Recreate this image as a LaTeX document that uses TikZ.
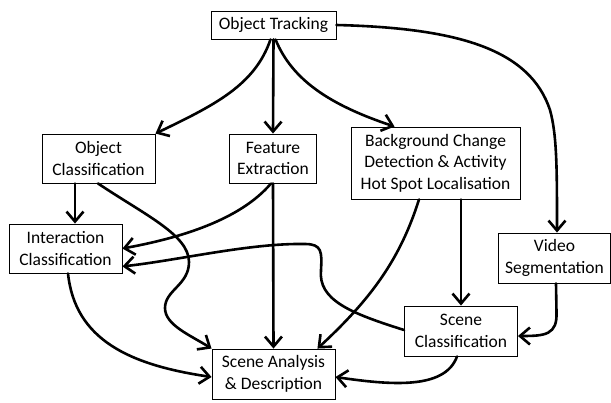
\documentclass[tikz,border=0pt]{standalone}
\usepackage{fontspec}
\setmainfont{Carlito}
\usetikzlibrary{arrows.meta,calc}

\tikzset{
  stage/.style={draw=black, line width=0.9pt, fill=white, inner sep=0pt,
    align=center, font=\fontsize{17.5}{21.5}\selectfont},
  link/.style={line width=2.6pt, line cap=round, line join=round,
    -{Straight Barb[length=10pt,width=17pt,line width=2.6pt]}},
}

\begin{document}
\begin{tikzpicture}[x=1pt,y=-1pt]
\useasboundingbox (0,0) rectangle (611,402);

% processing stages
\node[stage, minimum width=125pt, minimum height=28pt] (ot) at (273.5,25) {Object Tracking};
\node[stage, minimum width=113pt, minimum height=49pt] (oc) at (98.5,158.5) {Object\\Classification};
\node[stage, minimum width=87pt,  minimum height=49pt] (fe) at (273,158.5) {Feature\\Extraction};
\node[stage, minimum width=169pt, minimum height=72pt] (bg) at (435.5,163) {Background Change\\Detection \& Activity\\Hot Spot Localisation};
\node[stage, minimum width=113pt, minimum height=49pt] (ic) at (65.5,248.5) {Interaction\\Classification};
\node[stage, minimum width=112pt, minimum height=50pt] (vs) at (554.5,258) {Video\\Segmentation};
\node[stage, minimum width=113pt, minimum height=50pt] (sc) at (461,331) {Scene\\Classification};
\node[stage, minimum width=123pt, minimum height=50pt] (sa) at (273.5,374) {Scene Analysis\\\& Description};

% from object tracking
\draw[link] ([xshift=-3pt]ot.south) .. controls (255,85) and (215,105) .. (oc.north east);
\draw[link] (ot.south) -- (fe.north);
\draw[link] ([xshift=2pt]ot.south) .. controls (292,80) and (330,105) .. ([xshift=-41pt]bg.north);
\draw[link] (ot.east) .. controls (460,28) and (530,50) .. (550,110)
  .. controls (557,135) and (557,170) .. ([xshift=2.5pt]vs.north);

% from object classification
\draw[link] ([xshift=9.5pt]ic.north |- oc.south) -- ([xshift=9.5pt]ic.north);
\draw[link] ([xshift=-0.5pt]oc.south) .. controls (145,215) and (189,235) .. (189,262)
  .. controls (189,285) and (165,290) .. (165,308)
  .. controls (165,325) and (190,335) .. (sa.north west);

% from feature extraction
\draw[link] ([xshift=-2pt]fe.south) .. controls (240,220) and (180,238) .. (ic.east);
\draw[link] (fe.south) -- (sa.north);

% from background change detection
\draw[link] ([xshift=-16.5pt]bg.south) .. controls (400,260) and (370,300) .. ([xshift=-18pt]sa.north east);
\draw[link] (bg.south -| sc.north) -- (sc.north);

% from video segmentation
\draw[link] ([xshift=1.5pt]vs.south) -- (556.5,312) .. controls (557.5,335) and (545,336) .. ([yshift=-5pt]sc.east);

% from scene classification
\draw[link] ([yshift=1pt]sc.west) .. controls (350,313) and (318,300) .. (321,270)
  .. controls (322,252) and (322,244) .. (305,244)
  .. controls (250,243) and (180,260) .. ([yshift=7pt]ic.south east);
\draw[link] ([xshift=-4pt]sc.south) .. controls (445,390) and (390,385) .. ([yshift=-3pt]sa.east);

% from interaction classification
\draw[link] ([xshift=2.5pt]ic.south) .. controls (75,340) and (130,365) .. ([yshift=-3pt]sa.west);
\end{tikzpicture}
\end{document}
